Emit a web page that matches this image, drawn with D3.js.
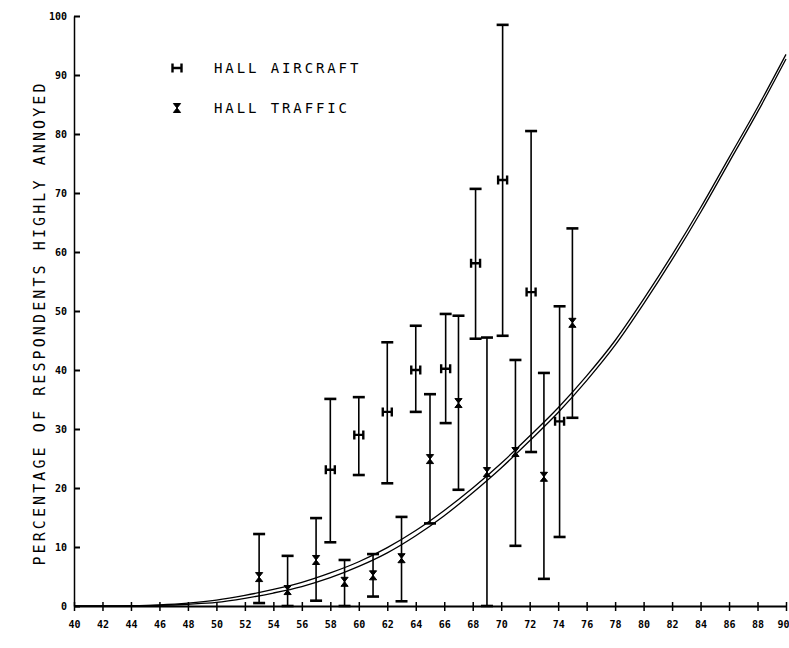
<!DOCTYPE html>
<html>
<head>
<meta charset="utf-8">
<script src="https://cdn.jsdelivr.net/npm/d3@7"></script>
<style>
  html, body { margin: 0; padding: 0; background: #fff; }
  svg { display: block; }
  text { font-family: "DejaVu Sans Mono", "Liberation Mono", monospace; fill: #000; }
</style>
</head>
<body>
<svg id="chart" width="789" height="648"></svg>
<script>
// ---- data ----
const xTicks = [40,42,44,46,48,50,52,54,56,58,60,62,64,66,68,70,72,74,76,78,80,82,84,86,88,90];
const yTicks = [0,10,20,30,40,50,60,70,80,90,100];

// Hall aircraft: level, mean %HA, lower, upper
const aircraftX    = [58, 60, 62, 64, 66.1, 68.2, 70.1, 72.1, 74.1];
const aircraftMean = [23.1, 29.0, 32.9, 40.0, 40.2, 58.1, 72.2, 53.2, 31.3];
const aircraftLow  = [10.8, 22.2, 20.8, 32.9, 31.0, 45.3, 45.8, 26.1, 11.7];
const aircraftHigh = [35.1, 35.4, 44.7, 47.5, 49.5, 70.7, 98.5, 80.5, 50.8];

// Hall traffic
const trafficX    = [53, 55, 57, 59, 61, 63, 65, 67, 69, 71, 73, 75];
const trafficMean = [4.9, 2.7, 7.8, 4.1, 5.2, 8.1, 24.9, 34.4, 22.7, 26.1, 21.9, 48.0];
const trafficLow  = [0.5, 0.0, 0.9, 0.0, 1.6, 0.8, 14.0, 19.7, 0.0, 10.2, 4.6, 31.9];
const trafficHigh = [12.2, 8.5, 14.9, 7.8, 8.8, 15.1, 35.9, 49.2, 45.5, 41.7, 39.5, 64.0];

// Fitted curves (double line)
const curveX  = [40,42,44,46,48,50,52,54,56,58,60,62,64,66,68,70,72,74,76,78,80,82,84,86,88,90];
const curve1Y = [0,0,0.05,0.2,0.5,1.0,1.8,2.8,4.0,5.6,7.5,9.9,12.8,16.2,20.0,24.2,28.8,33.6,39.0,45.0,52.0,59.5,67.5,76.0,84.5,93.5];
const curve2Y = [0,0,0,0.1,0.3,0.6,1.3,2.2,3.3,4.8,6.7,9.0,11.9,15.3,19.2,23.4,28.0,32.8,38.2,44.2,51.2,58.7,66.7,75.2,83.7,92.7];

const legendLabels = ["HALL AIRCRAFT", "HALL TRAFFIC"];
const yLabel = "PERCENTAGE OF RESPONDENTS HIGHLY ANNOYED";

// ---- layout ----
const svg = d3.select("#chart");
const x = d3.scaleLinear().domain([40, 90]).range([74, 786]);
const y = d3.scaleLinear().domain([0, 100]).range([606, 16]);

// curves
const line = d3.line().x(d => x(d[0])).y(d => y(d[1])).curve(d3.curveMonotoneX);
[curve1Y, curve2Y].forEach(cy => {
  svg.append("path")
    .datum(curveX.map((v, i) => [v, cy[i]]))
    .attr("d", line)
    .attr("fill", "none")
    .attr("stroke", "#000")
    .attr("stroke-width", 1.3);
});

// axes
const xAxis = svg.append("g").attr("transform", `translate(0,${y(0)})`)
  .call(d3.axisBottom(x).tickValues(xTicks).tickSizeInner(5).tickSizeOuter(0).tickPadding(10));
xAxis.select(".domain").attr("stroke-width", 2);
xAxis.selectAll(".tick line").attr("y1", -4).attr("stroke-width", 1.5);
xAxis.selectAll("text").attr("font-size", 10).attr("font-weight", "bold");
xAxis.selectAll(".tick").filter(d => d === 90).select("text")
  .attr("text-anchor", "end").attr("dx", 3);

const yAxis = svg.append("g").attr("transform", `translate(${x(40)},0)`)
  .call(d3.axisLeft(y).tickValues(yTicks).tickSizeInner(4).tickSizeOuter(0).tickPadding(3));
yAxis.select(".domain").attr("stroke-width", 1.5);
yAxis.selectAll(".tick line").attr("x2", 6).attr("stroke-width", 2);
yAxis.selectAll("text").attr("font-size", 10).attr("font-weight", "bold");

// markers
function hMarker(g, cx, cy, s) {
  g.append("path")
    .attr("d", `M${cx - s},${cy - s}V${cy + s}M${cx + s},${cy - s}V${cy + s}M${cx - s},${cy}H${cx + s}`)
    .attr("stroke", "#000").attr("stroke-width", 2.4).attr("fill", "none");
}
function xMarker(g, cx, cy, s) {
  g.append("path")
    .attr("d", `M${cx - s * 0.8},${cy - s}L${cx + s * 0.8},${cy - s}L${cx},${cy}Z M${cx - s * 0.8},${cy + s}L${cx + s * 0.8},${cy + s}L${cx},${cy}Z`)
    .attr("fill", "#000").attr("stroke", "#000").attr("stroke-width", 1);
}

function errorBars(xs, lo, hi, mean, marker) {
  const g = svg.append("g");
  xs.forEach((xv, i) => {
    const px = x(xv);
    g.append("line").attr("x1", px).attr("x2", px).attr("y1", y(lo[i])).attr("y2", y(hi[i]))
      .attr("stroke", "#000").attr("stroke-width", 1.6);
    [lo[i], hi[i]].forEach(v => {
      g.append("line").attr("x1", px - 6).attr("x2", px + 6).attr("y1", y(v)).attr("y2", y(v))
        .attr("stroke", "#000").attr("stroke-width", 2.6);
    });
    marker(g, px, y(mean[i]), 4.5);
  });
}
errorBars(aircraftX, aircraftLow, aircraftHigh, aircraftMean, hMarker);
errorBars(trafficX, trafficLow, trafficHigh, trafficMean, xMarker);

// legend
const lg = svg.append("g");
hMarker(lg, 177, 68, 4.5);
xMarker(lg, 177, 108, 4.5);
legendLabels.forEach((t, i) => {
  lg.append("text").attr("x", 214).attr("y", 68 + i * 40).attr("dy", "0.36em")
    .attr("font-size", 14).attr("letter-spacing", 2.9).text(t);
});

// y label
svg.append("text")
  .attr("transform", "translate(40,323) rotate(-90)")
  .attr("text-anchor", "middle").attr("dy", "0.36em")
  .attr("font-size", 15).attr("letter-spacing", 3.1)
  .text(yLabel);
</script>
</body>
</html>
